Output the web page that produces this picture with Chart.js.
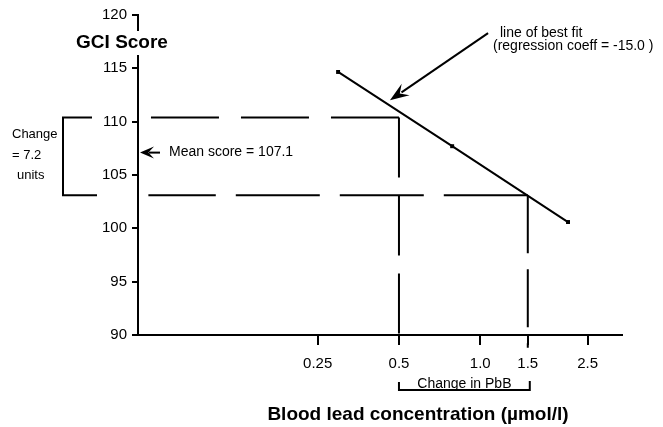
<!DOCTYPE html>
<html><head><meta charset="utf-8">
<script src="https://cdn.jsdelivr.net/npm/chart.js@4"></script>
<style>html,body{margin:0;padding:0;background:#fff}#wrap{width:663px;height:427px;position:relative}</style>
</head><body><div id="wrap"><canvas id="c" width="663" height="427"></canvas></div>
<script>
// ---- data ----
const xTickValues = [0.25, 0.5, 1.0, 1.5, 2.5];
const xTickLabels = ['0.25', '0.5', '1.0', '1.5', '2.5'];
const yTickStep = 5;
const xRange = [0.054, 3.35];
const yRange = [90, 120];
const fitX = [0.2975, 0.787, 2.114];
const fitY = [114.66, 107.7, 100.59];
const upperScore = 110.4;
const lowerScore = 103.1;
const meanScore = 107.1;
const lowPbB = 0.5;
const highPbB = 1.5;
const dashBottom = 88.8;
const dashLeft = 0.059;

const FONT = "'Liberation Sans', Arial, Helvetica, sans-serif";

function seg(x1, y1, x2, y2) { return [{x: x1, y: y1}, {x: x2, y: y2}]; }
function dashed(data, dash) {
  return {data, showLine: true, borderColor: '#000', borderWidth: 2, pointRadius: 0,
          borderDash: dash, clip: false, fill: false};
}

function arrow(ctx, tx, ty, hx, hy, len, half) {
  const a = Math.atan2(hy - ty, hx - tx);
  const bx = hx - len * Math.cos(a), by = hy - len * Math.sin(a);
  ctx.beginPath(); ctx.moveTo(tx, ty); ctx.lineTo(bx + 3 * Math.cos(a), by + 3 * Math.sin(a)); ctx.stroke();
  const px = -Math.sin(a), py = Math.cos(a);
  const nx = hx - len * 0.7 * Math.cos(a), ny = hy - len * 0.7 * Math.sin(a);
  ctx.beginPath();
  ctx.moveTo(hx, hy);
  ctx.lineTo(bx + px * half - Math.cos(a) * 2, by + py * half - Math.sin(a) * 2);
  ctx.lineTo(nx, ny);
  ctx.lineTo(bx - px * half - Math.cos(a) * 2, by - py * half - Math.sin(a) * 2);
  ctx.closePath(); ctx.fill();
}

const annotations = {
  id: 'annotations',
  afterDraw(chart) {
    const ctx = chart.ctx, xs = chart.scales.x, ys = chart.scales.y;
    ctx.save();
    ctx.fillStyle = '#000'; ctx.strokeStyle = '#000'; ctx.lineWidth = 2;
    // GCI Score title with white background over axis
    ctx.font = 'bold 19px ' + FONT;
    ctx.textAlign = 'center'; ctx.textBaseline = 'middle';
    const gx = 122, gy = ys.top + 28;
    const gw = ctx.measureText('GCI Score').width;
    ctx.fillStyle = '#fff'; ctx.fillRect(gx - gw / 2 - 2, gy - 12, gw + 4, 24);
    ctx.fillStyle = '#000'; ctx.fillText('GCI Score', gx, gy);

    // left bracket "Change = 7.2 units"
    const yu = ys.getPixelForValue(upperScore), yl = ys.getPixelForValue(lowerScore);
    const bx = 63;
    ctx.beginPath();
    ctx.moveTo(bx + 29, yu); ctx.lineTo(bx, yu); ctx.lineTo(bx, yl); ctx.lineTo(bx + 34, yl);
    ctx.stroke();
    ctx.font = '13px ' + FONT; ctx.textAlign = 'left';
    ctx.fillText('Change', 12, yu + 17);
    ctx.fillText('= 7.2', 12, yu + 38);
    ctx.fillText('units', 17, yu + 58);

    // Mean score arrow
    const ym = ys.getPixelForValue(meanScore);
    arrow(ctx, xs.left + 22, ym, xs.left + 2, ym, 12, 6);
    ctx.font = '14px ' + FONT; ctx.textAlign = 'left';
    ctx.fillText('Mean score = 107.1', 169, ym);

    // best fit arrow
    const tipX = xs.getPixelForValue(0.463), tipY = ys.getPixelForValue(112.0);
    const tailX = xs.getPixelForValue(1.069), tailY = ys.getPixelForValue(118.3);
    arrow(ctx, tailX, tailY, tipX, tipY, 17, 7);
    ctx.font = '14px ' + FONT; ctx.textAlign = 'left';
    ctx.fillText('line of best fit', 500, 33);
    ctx.fillText('(regression coeff = -15.0 )', 493, 46);

    // Change in PbB bracket
    const x1 = xs.getPixelForValue(lowPbB), x2 = xs.getPixelForValue(highPbB) + 2;
    const by2 = ys.bottom + 55;
    ctx.beginPath();
    ctx.moveTo(x1, by2 - 8); ctx.lineTo(x1, by2); ctx.lineTo(x2, by2); ctx.lineTo(x2, by2 - 9);
    ctx.stroke();
    ctx.font = '14px ' + FONT; ctx.textAlign = 'center'; ctx.textBaseline = 'alphabetic';
    ctx.fillText('Change in PbB', (x1 + x2) / 2, by2 - 2);

    // x axis title
    ctx.font = 'bold 19px ' + FONT; ctx.textBaseline = 'middle';
    ctx.fillText('Blood lead concentration (\u00b5mol/l)', 418, 415);
    ctx.restore();
  }
};

new Chart(document.getElementById('c'), {
  type: 'scatter',
  data: {
    datasets: [
      {data: fitX.map((x, i) => ({x, y: fitY[i]})), showLine: true, borderColor: '#000',
       borderWidth: 2, pointStyle: 'rect', pointRadius: 2.8, pointBackgroundColor: '#000',
       pointBorderColor: '#000', pointBorderWidth: 0},
      dashed(seg(lowPbB, upperScore, xRange[0], upperScore), [68, 22]),
      dashed(seg(lowPbB, upperScore, lowPbB, dashBottom), [60, 18]),
      dashed(seg(highPbB, lowerScore, dashLeft, lowerScore), [84, 20]),
      dashed(seg(highPbB, lowerScore, highPbB, dashBottom), [58, 16])
    ]
  },
  options: {
    responsive: false, animation: false, devicePixelRatio: 1,
    layout: {padding: {top: 15, right: 41, bottom: 52, left: 0}},
    plugins: {legend: {display: false}, tooltip: {enabled: false}},
    scales: {
      x: {
        type: 'logarithmic', min: xRange[0], max: xRange[1],
        afterBuildTicks: s => { s.ticks = xTickValues.map(v => ({value: v})); },
        afterFit: s => { s.height = 40; },
        ticks: {callback: (v, i) => xTickLabels[i], autoSkip: false, maxRotation: 0,
                color: '#000', font: {family: FONT, size: 15}, padding: 10},
        grid: {drawOnChartArea: false, drawTicks: true, tickLength: 10, color: '#000', lineWidth: 2},
        border: {color: '#000', width: 2}
      },
      y: {
        min: yRange[0], max: yRange[1],
        afterFit: s => { s.width = 138; },
        ticks: {stepSize: yTickStep, color: '#000', font: {family: FONT, size: 15}, padding: 5},
        grid: {drawOnChartArea: false, drawTicks: true, tickLength: 6, color: '#000', lineWidth: 2},
        border: {color: '#000', width: 2}
      }
    }
  },
  plugins: [annotations]
});
</script></body></html>
